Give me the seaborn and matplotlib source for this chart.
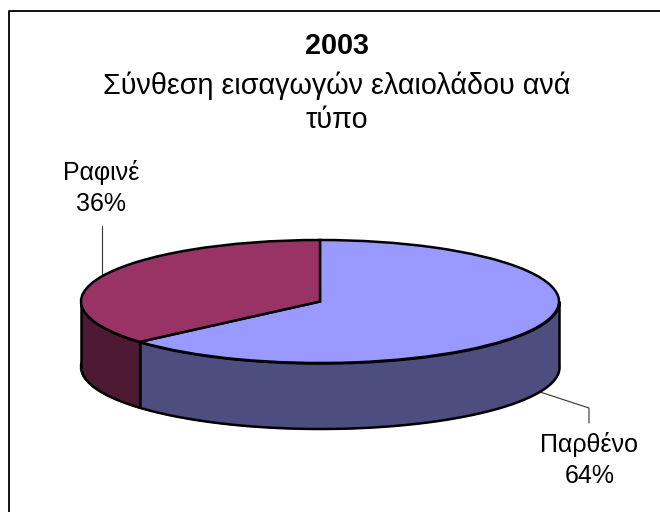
import numpy as np
import matplotlib
matplotlib.use('Agg')
import matplotlib.pyplot as plt
from matplotlib.lines import Line2D
import seaborn as sns

# data
categories = ['Παρθένο', 'Ραφινέ']
shares = [63.6, 36.4]
title_year = '2003'
title_text = 'Σύνθεση εισαγωγών ελαιολάδου ανά\nτύπο'

top_colors = ['#9999FF', '#993366']
wall_colors = ['#4D4D80', '#4D1933']

sns.set_theme(style='white')
plt.rcParams['font.family'] = ['Liberation Sans', 'DejaVu Sans']

W, H = 660, 512
CX, CY = 320, 301.5   # pie centre in pixels
RX, RY = 239, 61.5    # ellipse radii in pixels
DEPTH = 65.5 / RY     # wall height in axis units

fig = plt.figure(figsize=(W / 100, H / 100), dpi=100)
ax = fig.add_axes([0, 0, 1, 1])

def px(x, y):
    return (x - CX) / RX, (CY - y) / RY

edge = {'edgecolor': 'black', 'linewidth': 1.8}

# floor of the pie, gives the rounded bottom outline
ax.pie(shares, colors=wall_colors, startangle=90, counterclock=False,
       center=(0, -DEPTH), radius=1, wedgeprops=edge)

# walls, only the front half (180..360 degrees) can be seen
split = 90 - 360 * shares[0] / sum(shares) + 360
wall_ranges = [(split, 360), (180, split)]
for (a0, a1), col in zip(wall_ranges, wall_colors):
    t = np.radians(np.linspace(a0, a1, 120))
    ax.fill_between(np.cos(t), np.sin(t), np.sin(t) - DEPTH, facecolor=col,
                    edgecolor='black', linewidth=1.8, zorder=3)

# top of the pie
wedges, _ = ax.pie(shares, colors=top_colors, startangle=90, counterclock=False,
                   radius=1, wedgeprops=edge)
for w in wedges:
    w.set_zorder(4)

ax.set_aspect('auto')
ax.set_xlim(px(0, 0)[0], px(W, 0)[0])
ax.set_ylim(px(0, H)[1], px(0, 0)[1])
ax.axis('off')

# leader lines
lead_a = [px(540, 392), px(589, 408), px(589, 423)]
lead_b = [px(102, 274), px(102, 226)]
for pts in (lead_a, lead_b):
    xs, ys = zip(*pts)
    ax.plot(xs, ys, color='#333333', linewidth=0.8, zorder=2)

# labels
label_pos = [(589.5, 460), (101, 188)]
for name, val, (x, y) in zip(categories, shares, label_pos):
    lx, ly = px(x, y)
    ax.text(lx, ly, f'{name}\n{val:.0f}%', ha='center', va='center', fontsize=18,
            color='black', linespacing=1.37, zorder=5)

# title
fig.text(337 / W, 1 - 46 / H, title_year, ha='center', va='center',
         fontsize=20.7, fontweight='bold', color='black')
fig.text(337 / W, 1 - 103 / H, title_text, ha='center', va='center',
         fontsize=20.7, color='black', linespacing=1.25)

# chart frame, only the left and top sides fall inside the picture
frame_x = [9 / W, 9 / W, 1]
frame_y = [0, 1 - 10.7 / H, 1 - 10.7 / H]
fig.add_artist(Line2D(frame_x, frame_y, transform=fig.transFigure, color='#111111', linewidth=1.4))

fig.savefig('out.png', dpi=100)
